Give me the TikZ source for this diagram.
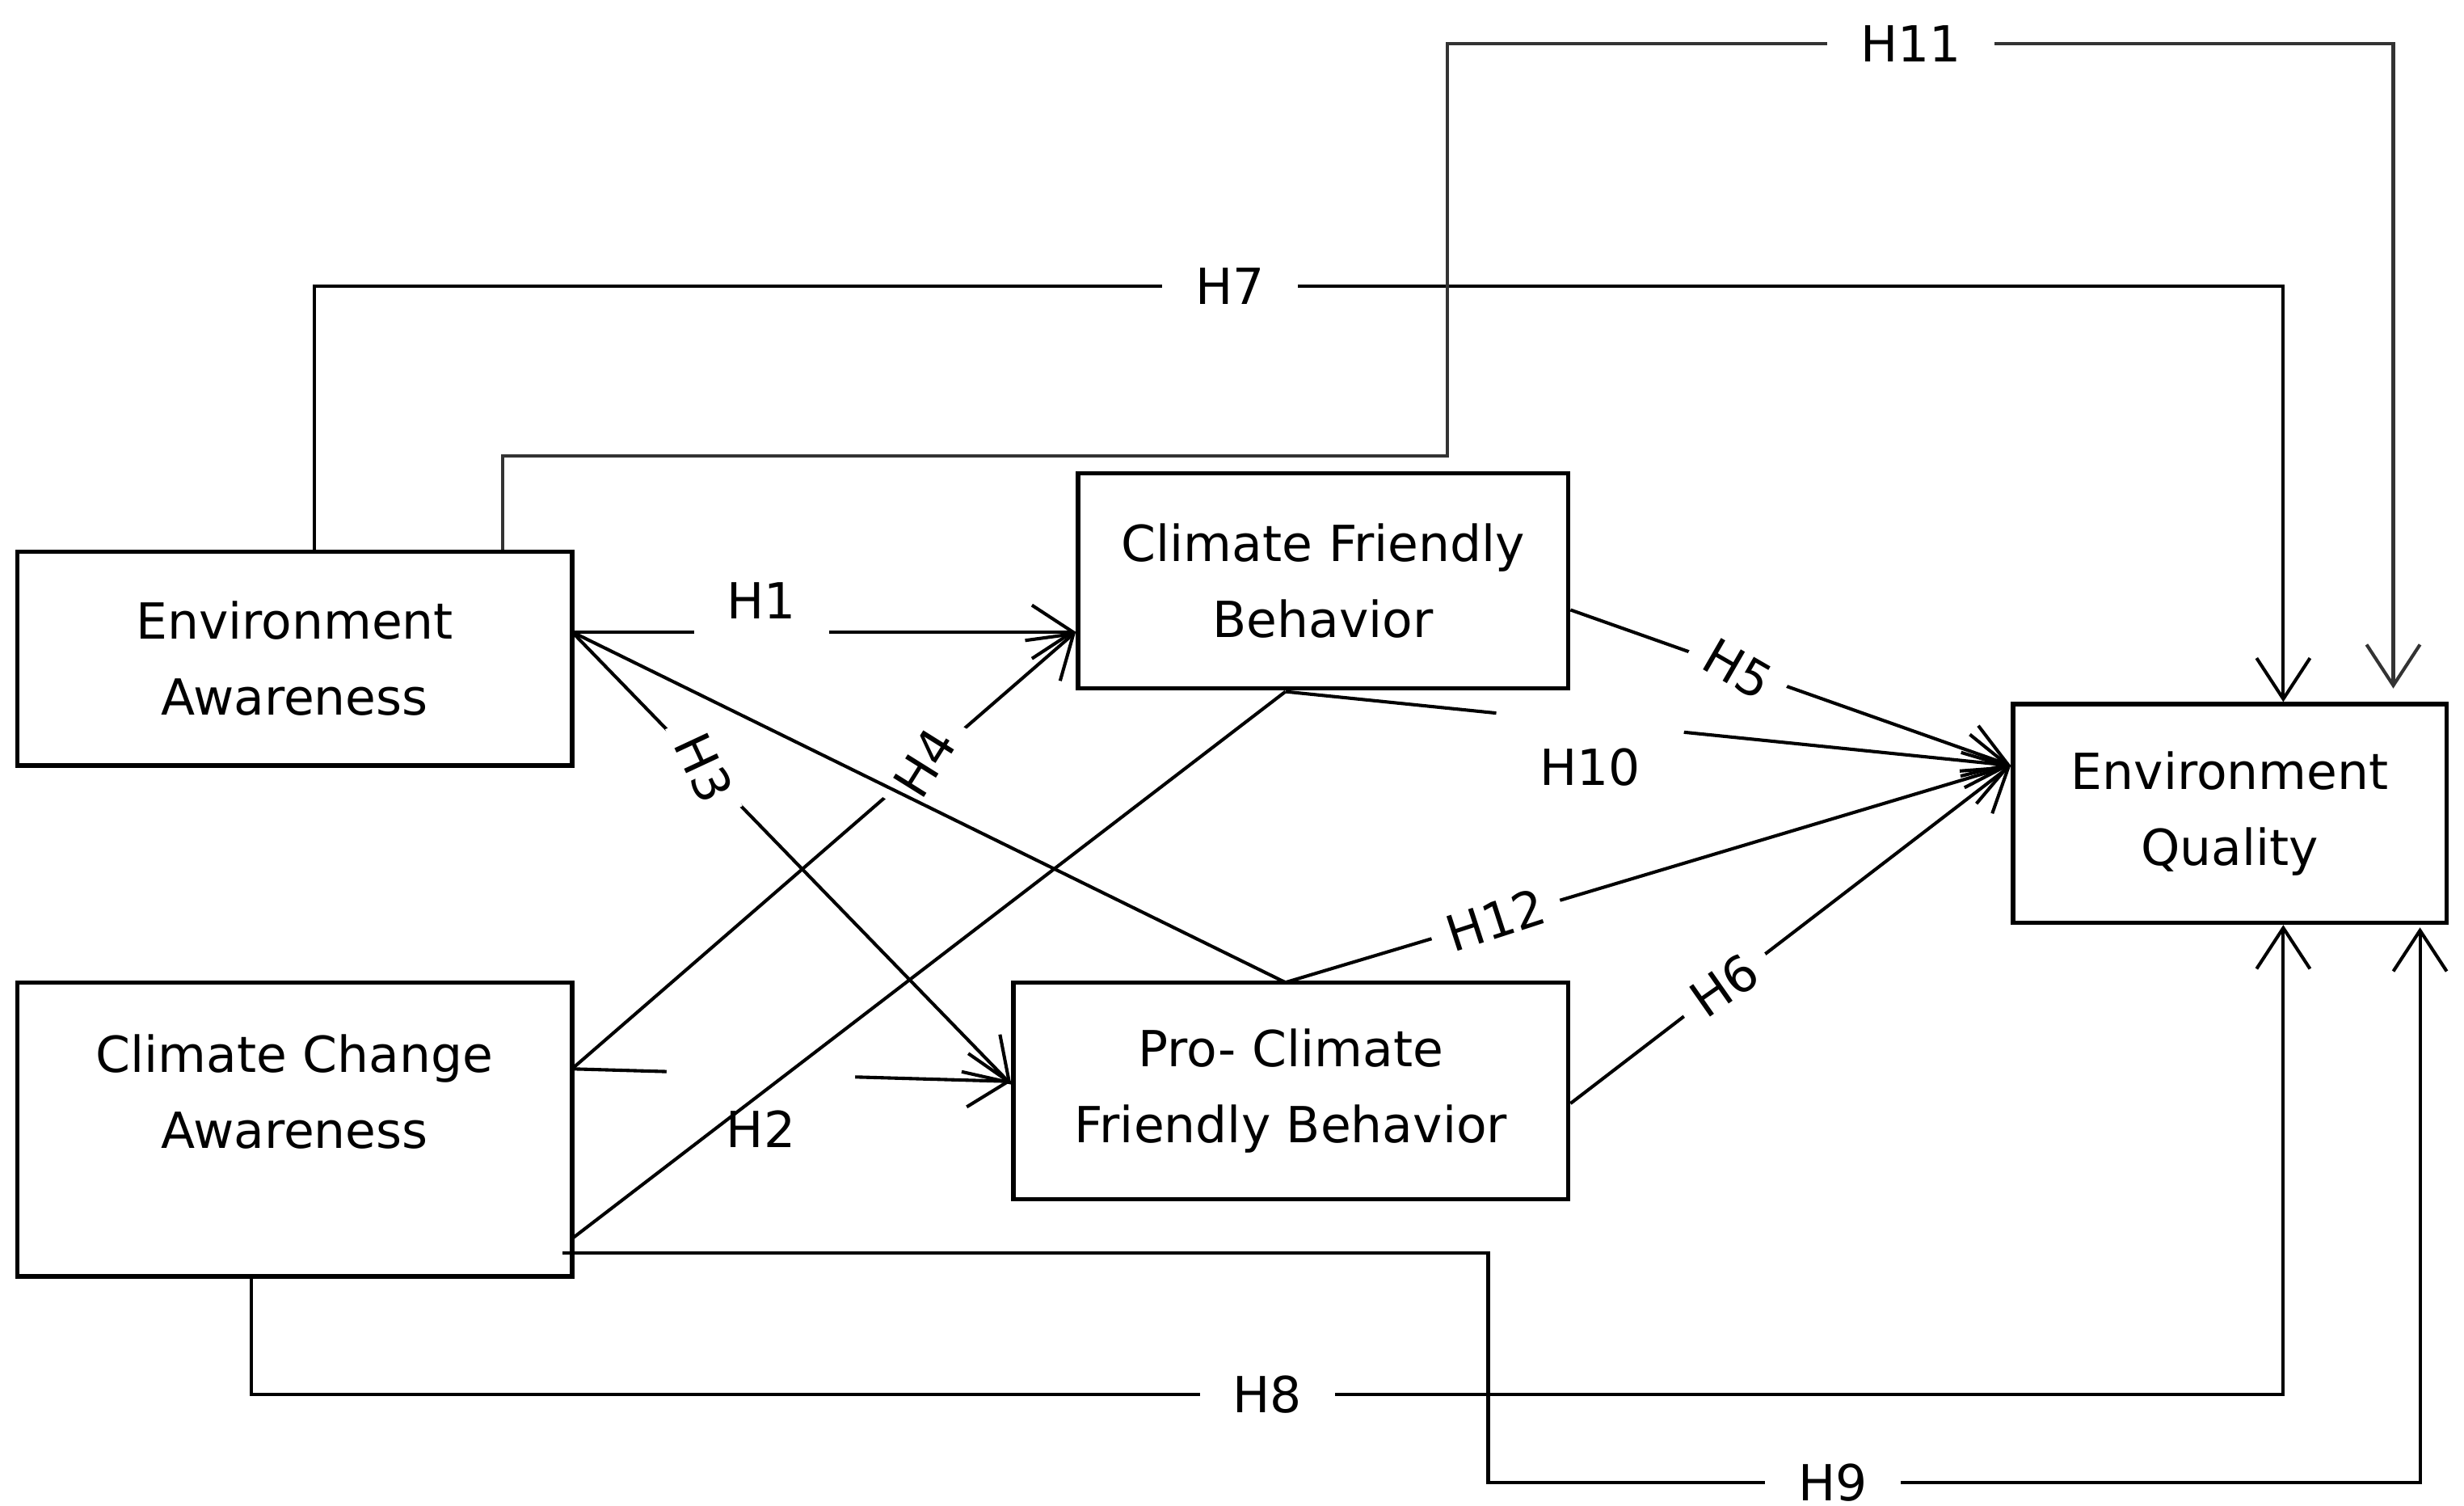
\documentclass[tikz,border=0pt]{standalone}
\usepackage{fontspec}
\setmainfont{DejaVu Sans}
\usetikzlibrary{arrows.meta}

\tikzset{
  box/.style={rectangle, draw, thick, align=center, font=\fontsize{9}{13.7}\selectfont},
  hyp/.style={fill=white, inner xsep=6pt, inner ysep=0pt, font=\fontsize{9}{11}\selectfont},
  gap/.style={fill=white, inner sep=0pt, minimum width=#1, minimum height=8pt, sloped},
  link/.style={draw, semithick, -{Straight Barb[length=2.6mm,width=3.4mm]}},
  plain/.style={draw, semithick}
}

\begin{document}
\begin{tikzpicture}[x=0.1mm, y=-0.1mm]
    \useasboundingbox (0,0) rectangle (1568,958);
    % boxes
    \node[box, minimum width=35.3mm, minimum height=13.6mm] (ea) at (187.5,419) {Environment\\Awareness};
    \node[box, minimum width=35.3mm, minimum height=18.7mm] (cca) at (187.5,718.5) {Climate Change\\Awareness\\\mbox{}};
    \node[box, minimum width=31.2mm, minimum height=13.7mm] (cfb) at (842,369.5) {Climate Friendly\\Behavior};
    \node[box, minimum width=35.3mm, minimum height=13.8mm] (pcfb) at (821.5,694) {Pro- Climate\\Friendly Behavior};
    \node[box, minimum width=27.6mm, minimum height=13.9mm] (eq) at (1419,517.5) {Environment\\Quality};
    % start and bend points
    \coordinate (ea1) at (364,402);
    \coordinate (cca1) at (364,680);
    \coordinate (cca2) at (364,788);
    \coordinate (cca3) at (358,797);
    \coordinate (cfbb) at (818,440);
    \coordinate (pcfbt) at (818,625);
    % H7, H11
    \draw[link] (ea.north -| 200,0) -- (200,182) -- node[hyp, pos=0.465] {H7} (1453,182) -- (eq.north -| 1453,0);
    \draw[link, black!80] (ea.north -| 320,0) |- (921,290) -- (921,28) -- node[hyp, pos=0.49, text=black] {H11} (1523,28) -- (1523,438);
    % H1 to H4
    \draw[link] (ea1) -- node[hyp, pos=0.376, yshift=2mm, inner ysep=3pt] {H1} (cfb.west |- ea1);
    \draw[link] (ea1) -- node[hyp, pos=0.3, rotate=-65, inner xsep=3pt] {H3} (pcfb.west |- 0,690);
    \draw[link] (cca1) -- node[hyp, pos=0.7, rotate=58, inner xsep=3pt] {H4} (cfb.west |- 0,402);
    \draw[link] (cca1) -- node[gap=12mm, pos=0.43] {} node[pos=0.43, below=3pt, font=\fontsize{9}{11}\selectfont] {H2} (pcfb.west |- 0,688);
    % indirect paths
    \draw[plain] (cca2) -- (cfbb);
    \draw[link] (cfbb) -- node[gap=12mm, pos=0.42] {} node[pos=0.42, below=1pt, font=\fontsize{9}{11}\selectfont] {H10} (eq.west |- 0,487);
    \draw[plain] (ea1) -- (pcfbt);
    \draw[link] (pcfbt) -- node[hyp, pos=0.29, rotate=18, inner xsep=3pt] {H12} (eq.west |- 0,487);
    \draw[link] (cfb.east |- 0,388) -- node[hyp, pos=0.38, rotate=-30, inner xsep=3pt] {H5} (eq.west |- 0,487);
    \draw[link] (pcfb.east |- 0,702) -- node[hyp, pos=0.35, rotate=35, inner xsep=3pt] {H6} (eq.west |- 0,487);
    % H8, H9
    \draw[link] (cca.south -| 160,0) -- (160,887) -- node[hyp, pos=0.5] {H8} (1453,887) -- (eq.south -| 1453,0);
    \draw[link] (cca3) -| (947,943) -- node[hyp, pos=0.37] {H9} (1540,943) -- (1540,590);
\end{tikzpicture}
\end{document}
